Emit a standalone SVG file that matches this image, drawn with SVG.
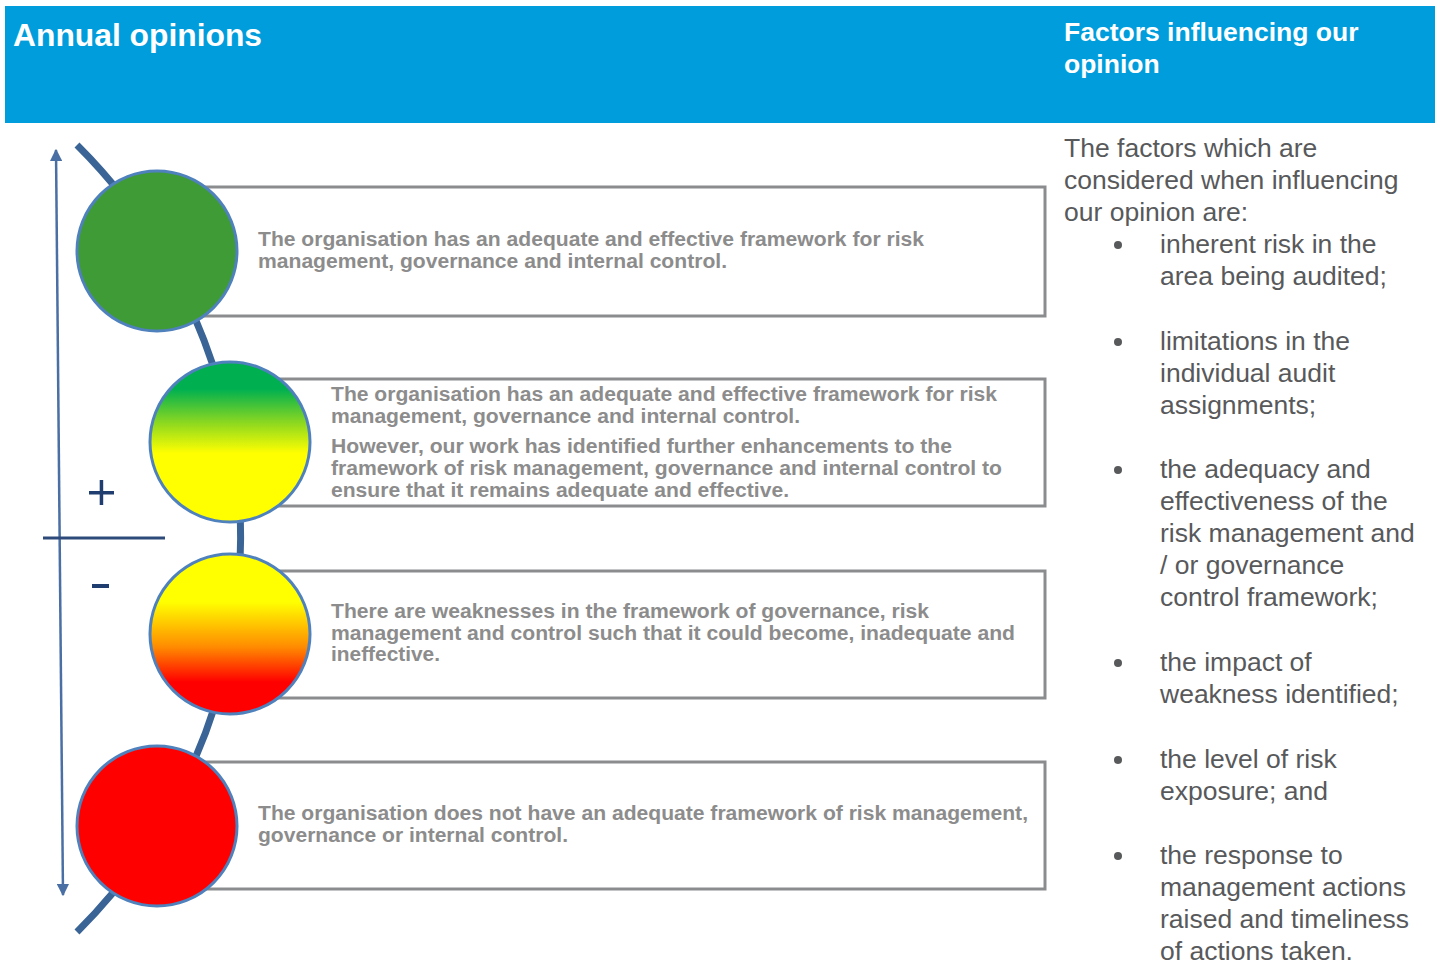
<svg xmlns="http://www.w3.org/2000/svg" width="1438" height="970" viewBox="0 0 1438 970">
<style>
.hdr{font-family:"Liberation Sans",Arial,sans-serif;font-weight:bold;fill:#ffffff}
.box{fill:#ffffff;stroke:#8A8C8E;stroke-width:3}
.circ{stroke:#4F81BD;stroke-width:3}
.bt{font-family:"Liberation Sans",Arial,sans-serif;font-weight:bold;font-size:20px;fill:#8C8C8C}
.rt{font-family:"Liberation Sans",Arial,sans-serif;font-size:26.5px;fill:#58595B}
</style>
<defs>
<linearGradient id="gGY" x1="0" y1="0" x2="0" y2="1">
<stop offset="0.17" stop-color="#00B050"/>
<stop offset="0.38" stop-color="#8CD820"/>
<stop offset="0.57" stop-color="#FFFF00"/>
<stop offset="1" stop-color="#FFFF00"/>
</linearGradient>
<linearGradient id="gYR" x1="0" y1="0" x2="0" y2="1">
<stop offset="0.3" stop-color="#FFFF00"/>
<stop offset="0.58" stop-color="#FF8C00"/>
<stop offset="0.8" stop-color="#FF0000"/>
<stop offset="1" stop-color="#FF0000"/>
</linearGradient>
<marker id="ah" viewBox="0 0 10 10" refX="9" refY="5" markerWidth="5" markerHeight="5" orient="auto-start-reverse">
<path d="M0,0 L10,5 L0,10 z" fill="#4A6FA5"/>
</marker>
</defs>

<g id="header">
<rect x="5" y="6" width="1430" height="117" fill="#009DDC"/>
<text class="hdr" x="13" y="46" font-size="31" textLength="249" lengthAdjust="spacingAndGlyphs">Annual opinions</text>
<text class="hdr" x="1064" y="41" font-size="26.5">Factors influencing our</text>
<text class="hdr" x="1064" y="73" font-size="26.5">opinion</text>
</g>

<g id="connectors">
<path d="M77,145 A555,555 0 0 1 77,932" fill="none" stroke="#3A6496" stroke-width="7"/>
<line x1="63" y1="895" x2="56" y2="150" stroke="#4A6FA5" stroke-width="2.5" marker-start="url(#ah)" marker-end="url(#ah)"/>
<line x1="43" y1="538" x2="165" y2="538" stroke="#2E4A7A" stroke-width="3"/>
</g>

<g id="signs" fill="#1F3D6E">
<rect x="89" y="491" width="25" height="3.5"/>
<rect x="99.7" y="480" width="3.5" height="25"/>
<rect x="92" y="584" width="17" height="4"/>
</g>

<g id="box1">
<rect class="box" x="157" y="187" width="888" height="129"/>
<circle class="circ" cx="157" cy="251" r="80" fill="#3F9B35"/>
<text class="bt" x="258" y="246" textLength="666" lengthAdjust="spacingAndGlyphs">The organisation has an adequate and effective framework for risk</text>
<text class="bt" x="258" y="268" textLength="469" lengthAdjust="spacingAndGlyphs">management, governance and internal control.</text>
</g>

<g id="box2">
<rect class="box" x="230" y="379" width="815" height="127"/>
<circle class="circ" cx="230" cy="442" r="80" fill="url(#gGY)"/>
<text class="bt" x="331" y="401" textLength="666" lengthAdjust="spacingAndGlyphs">The organisation has an adequate and effective framework for risk</text>
<text class="bt" x="331" y="423" textLength="469" lengthAdjust="spacingAndGlyphs">management, governance and internal control.</text>
<text class="bt" x="331" y="453" textLength="621" lengthAdjust="spacingAndGlyphs">However, our work has identified further enhancements to the</text>
<text class="bt" x="331" y="475" textLength="671" lengthAdjust="spacingAndGlyphs">framework of risk management, governance and internal control to</text>
<text class="bt" x="331" y="497" textLength="458" lengthAdjust="spacingAndGlyphs">ensure that it remains adequate and effective.</text>
</g>

<g id="box3">
<rect class="box" x="230" y="571" width="815" height="127"/>
<circle class="circ" cx="230" cy="634" r="80" fill="url(#gYR)"/>
<text class="bt" x="331" y="618" textLength="598" lengthAdjust="spacingAndGlyphs">There are weaknesses in the framework of governance, risk</text>
<text class="bt" x="331" y="640" textLength="684" lengthAdjust="spacingAndGlyphs">management and control such that it could become, inadequate and</text>
<text class="bt" x="331" y="661" textLength="109" lengthAdjust="spacingAndGlyphs">ineffective.</text>
</g>

<g id="box4">
<rect class="box" x="157" y="762" width="888" height="127"/>
<circle class="circ" cx="157" cy="826" r="80" fill="#FF0000"/>
<text class="bt" x="258" y="820" textLength="770" lengthAdjust="spacingAndGlyphs">The organisation does not have an adequate framework of risk management,</text>
<text class="bt" x="258" y="842" textLength="310" lengthAdjust="spacingAndGlyphs">governance or internal control.</text>
</g>

<g id="factors">
<text class="rt" x="1064" y="157">The factors which are</text>
<text class="rt" x="1064" y="189">considered when influencing</text>
<text class="rt" x="1064" y="221">our opinion are:</text>
<g fill="#58595B">
<circle cx="1118" cy="245" r="4"/>
<circle cx="1118" cy="342" r="4"/>
<circle cx="1118" cy="470" r="4"/>
<circle cx="1118" cy="663" r="4"/>
<circle cx="1118" cy="760" r="4"/>
<circle cx="1118" cy="856" r="4"/>
</g>
<text class="rt" x="1160" y="253">inherent risk in the</text>
<text class="rt" x="1160" y="285">area being audited;</text>
<text class="rt" x="1160" y="350">limitations in the</text>
<text class="rt" x="1160" y="382">individual audit</text>
<text class="rt" x="1160" y="414">assignments;</text>
<text class="rt" x="1160" y="478">the adequacy and</text>
<text class="rt" x="1160" y="510">effectiveness of the</text>
<text class="rt" x="1160" y="542">risk management and</text>
<text class="rt" x="1160" y="574">/ or governance</text>
<text class="rt" x="1160" y="606">control framework;</text>
<text class="rt" x="1160" y="671">the impact of</text>
<text class="rt" x="1160" y="703">weakness identified;</text>
<text class="rt" x="1160" y="768">the level of risk</text>
<text class="rt" x="1160" y="800">exposure; and</text>
<text class="rt" x="1160" y="864">the response to</text>
<text class="rt" x="1160" y="896">management actions</text>
<text class="rt" x="1160" y="928">raised and timeliness</text>
<text class="rt" x="1160" y="960">of actions taken.</text>
</g>
</svg>
